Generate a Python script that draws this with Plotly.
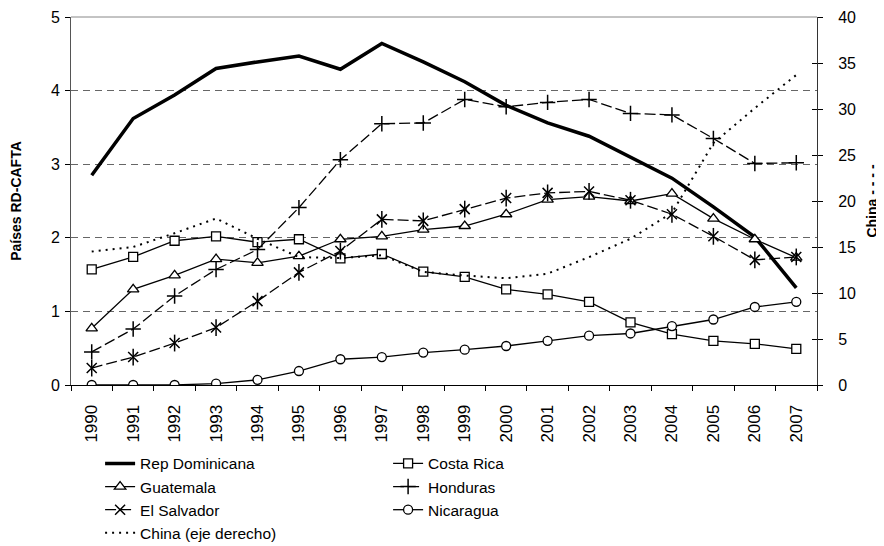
import plotly.graph_objects as go

years = [str(y) for y in range(1990, 2008)]

rep_dominicana = [2.85, 3.62, 3.94, 4.30, 4.39, 4.47, 4.29, 4.64, 4.39, 4.12, 3.80, 3.56, 3.38, 3.10, 2.81, 2.42, 2.01, 1.32]
costa_rica = [1.57, 1.74, 1.96, 2.02, 1.94, 1.98, 1.72, 1.78, 1.54, 1.47, 1.30, 1.23, 1.13, 0.85, 0.69, 0.60, 0.56, 0.49]
guatemala = [0.77, 1.30, 1.49, 1.71, 1.66, 1.75, 1.98, 2.02, 2.11, 2.16, 2.32, 2.52, 2.56, 2.50, 2.60, 2.26, 1.98, 1.73]
honduras = [0.45, 0.76, 1.21, 1.57, 1.84, 2.41, 3.06, 3.55, 3.56, 3.88, 3.78, 3.84, 3.88, 3.69, 3.67, 3.35, 3.01, 3.02]
el_salvador = [0.23, 0.38, 0.57, 0.78, 1.14, 1.53, 1.82, 2.25, 2.23, 2.39, 2.54, 2.61, 2.63, 2.51, 2.32, 2.02, 1.70, 1.74]
nicaragua = [0.00, 0.00, 0.00, 0.02, 0.07, 0.19, 0.35, 0.38, 0.44, 0.48, 0.53, 0.60, 0.67, 0.70, 0.80, 0.89, 1.06, 1.13]
china = [14.5, 15.0, 16.5, 18.1, 15.9, 13.9, 13.8, 14.1, 12.3, 11.9, 11.6, 12.1, 13.9, 15.9, 18.7, 26.3, 30.1, 33.7]

left_ticks = [0, 1, 2, 3, 4, 5]
right_ticks = [0, 5, 10, 15, 20, 25, 30, 35, 40]

FONT = "Arial, Liberation Sans, sans-serif"

fig = go.Figure()

def mk(symbol, size):
    return dict(symbol=symbol, size=size, color="white", line=dict(color="black", width=1.3))

fig.add_trace(go.Scatter(x=years, y=rep_dominicana, name="Rep Dominicana", mode="lines",
                         line=dict(color="black", width=3.5)))
fig.add_trace(go.Scatter(x=years, y=costa_rica, name="Costa Rica", mode="lines+markers",
                         line=dict(color="black", width=1.3), marker=mk("square", 9)))
fig.add_trace(go.Scatter(x=years, y=guatemala, name="Guatemala", mode="lines+markers",
                         line=dict(color="black", width=1.3), marker=mk("triangle-up", 10)))
fig.add_trace(go.Scatter(x=years, y=honduras, name="Honduras", mode="lines+markers",
                         line=dict(color="black", width=1.3, dash="11px,4px"),
                         marker=dict(symbol="cross-thin-open", size=11, color="black", line=dict(color="black", width=1.5))))
fig.add_trace(go.Scatter(x=years, y=el_salvador, name="El Salvador", mode="lines+markers",
                         line=dict(color="black", width=1.3, dash="11px,4px"),
                         marker=dict(symbol="x-thin-open", size=10, color="black", line=dict(color="black", width=1.5))))
fig.add_trace(go.Scatter(x=years, y=nicaragua, name="Nicaragua", mode="lines+markers",
                         line=dict(color="black", width=1.3), marker=mk("circle", 9)))
fig.add_trace(go.Scatter(x=years, y=china, name="China (eje derecho)", mode="lines", yaxis="y2",
                         line=dict(color="black", width=2, dash="2px,5px")))
# vertical bar of the El Salvador star marker
fig.add_trace(go.Scatter(x=years, y=el_salvador, mode="markers", showlegend=False, hoverinfo="skip",
                         marker=dict(symbol="line-ns-open", size=12, color="black", line=dict(color="black", width=1.5))))

fig.update_layout(
    width=876, height=538,
    margin=dict(l=63, r=67, t=9, b=161, autoexpand=False),
    paper_bgcolor="white", plot_bgcolor="white",
    font=dict(family=FONT, size=14, color="black"),
    xaxis=dict(type="category", range=[-0.5, 17.5], tickangle=-90, tickson="boundaries",
               ticks="outside", ticklen=5, tickcolor="black", showline=True, linecolor="black",
               linewidth=1, showgrid=False, tickfont=dict(size=17), automargin=False,
               ticklabelstandoff=12),
    yaxis=dict(range=[0, 5], tickvals=left_ticks, ticks="outside", ticklen=5, tickcolor="black",
               showline=True, linecolor="#555", linewidth=1, showgrid=True, gridcolor="#666",
               griddash="7px,5px", gridwidth=1, zeroline=False, automargin=False,
               tickfont=dict(size=16), ticklabelstandoff=2,
               title=dict(text="<b>Países RD-CAFTA</b>", font=dict(size=14), standoff=32)),
    yaxis2=dict(range=[0, 40], tickvals=right_ticks, overlaying="y", side="right", ticks="outside",
                ticklen=5, tickcolor="black", showline=True, linecolor="#333", linewidth=1,
                showgrid=False, zeroline=False, automargin=False, tickfont=dict(size=16),
                ticklabelstandoff=12,
                title=dict(text="<b>China - - - -</b>", font=dict(size=14), standoff=12)),
    yaxis3=dict(range=[0, 40], tickvals=right_ticks, overlaying="y", side="right", ticks="inside",
                ticklen=5, tickcolor="black", showticklabels=False, showgrid=False, zeroline=False,
                showline=False, automargin=False),
    legend=dict(orientation="h", x=0.039, xanchor="left", y=-0.168, yanchor="top",
                entrywidth=243, entrywidthmode="pixels", font=dict(family=FONT, size=15.5),
                tracegroupgap=0, bgcolor="rgba(0,0,0,0)"),
    shapes=[dict(type="line", xref="paper", yref="paper", x0=0, x1=1, y0=1, y1=1,
                 line=dict(color="#888", width=1))],
)
# invisible trace to activate the tick-only right axis
fig.add_trace(go.Scatter(x=[years[0]], y=[None], yaxis="y3", showlegend=False, hoverinfo="skip"))

fig.write_html("out.html")
